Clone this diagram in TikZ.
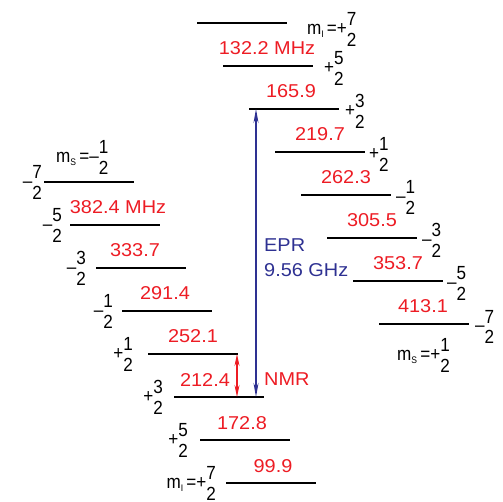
\documentclass[tikz,border=0pt]{standalone}
\usepackage{fontspec}
\setmainfont{Liberation Sans}
\newfontfamily\numfont[FakeStretch=1.07]{Liberation Sans}
\newfontfamily\labfont[FakeStretch=0.9]{Liberation Sans}
\usetikzlibrary{arrows.meta}
\definecolor{nred}{RGB}{237,28,36}
\definecolor{nblue}{RGB}{46,49,146}
\newcommand{\fr}[2]{\raisebox{-11.6pt}{\vbox{\offinterlineskip\halign{\hfil##\hfil\cr\rule{0pt}{13.6pt}#1\cr\noalign{\kern7pt}\rule{0pt}{13.6pt}#2\cr}}}}
\newcommand{\msub}[1]{m\raisebox{-2.5pt}{\fontsize{9.5}{9.5}\selectfont #1}\,}
\tikzset{
  level/.style={line width=1.3pt, black},
  num/.style={text=nred, font=\numfont\fontsize{18.6}{20}\selectfont, inner sep=0pt, anchor=base},
  lab/.style={text=black, font=\labfont\fontsize{19}{21}\selectfont, inner sep=0pt},
  epr/.style={nblue, line width=1.2pt, {Stealth[length=14pt,width=5pt]}-{Stealth[length=14pt,width=5pt]}},
  nmr/.style={nred, line width=1.2pt, {Stealth[length=12pt,width=5pt]}-{Stealth[length=12pt,width=5pt]}},
  eprtext/.style={text=nblue, font=\numfont\fontsize{18.6}{20}\selectfont, inner sep=0pt, anchor=base west},
}
\begin{document}
\begin{tikzpicture}[x=1pt,y=-1pt]
\useasboundingbox (0,0) rectangle (503,502);
% ---- upper manifold (m_S = +1/2)
\coordinate (uL0) at (197,23);
\coordinate (uR0) at (287,23);
\draw[level] (uL0) -- (uR0);
\node[lab, anchor=base west] (ul0) at (307,35) {\msub{I}=+\fr{7}{2}};
\foreach \i/\y/\x/\rx/\rv/\lx/\lab in {
  1/66/223/267/{132.2 MHz}/324/{+\fr{5}{2}},
  2/109/249/291/{165.9}/345/{+\fr{3}{2}},
  3/152/275/320/{219.7}/369/{+\fr{1}{2}},
  4/195/301/346/{262.3}/396/{–\fr{1}{2}},
  5/238/327/372/{305.5}/422/{–\fr{3}{2}},
  6/281/353/398/{353.7}/447/{–\fr{5}{2}},
  7/324/379/423/{413.1}/475/{–\fr{7}{2}}}{
  \coordinate (uL\i) at (\x,\y);
  \coordinate (uR\i) at (\x+90,\y);
  \draw[level] (uL\i) -- (uR\i);
  \node[num] (ur\i) at (\rx,\y-11) {\rv};
  \node[lab, anchor=base west] (ul\i) at (\lx,\y+8) {\lab};
}
\node[lab, anchor=base west] (msp) at (397,360.5) {\msub{S}=+\fr{1}{2}};
% ---- lower manifold (m_S = -1/2)
\node[lab, anchor=base west] (msm) at (56,163) {\msub{S}=–\fr{1}{2}};
\coordinate (lL0) at (44,182);
\coordinate (lR0) at (134,182);
\draw[level] (lL0) -- (lR0);
\node[lab, anchor=base east] (ll0) at (42,187.5) {–\fr{7}{2}};
\foreach \i/\y/\x/\rx/\rv/\lx/\lab in {
  1/225/70/118/{382.4 MHz}/62/{–\fr{5}{2}},
  2/268/96/135/{333.7}/86/{–\fr{3}{2}},
  3/311/122/165/{291.4}/113/{–\fr{1}{2}},
  4/354/148/193/{252.1}/133/{+\fr{1}{2}},
  5/397/174/205/{212.4}/163/{+\fr{3}{2}},
  6/440/200/242/{172.8}/188/{+\fr{5}{2}},
  7/483/226/273/{99.9}/216/{\msub{I}=+\fr{7}{2}}}{
  \coordinate (lL\i) at (\x,\y);
  \coordinate (lR\i) at (\x+90,\y);
  \draw[level] (lL\i) -- (lR\i);
  \node[num] (lr\i) at (\rx,\y-11) {\rv};
  \node[lab, anchor=base east] (ll\i) at (\lx,\y+5.5) {\lab};
}
% ---- transitions
\coordinate (eprB) at (256,397);
\coordinate (eprT) at (256,109);
\draw[epr] (eprB) -- (eprT);
\node[eprtext] (eprl1) at (264,252) {EPR};
\node[eprtext] (eprl2) at (264,277) {9.56 GHz};
\coordinate (nmrT) at (237,354);
\coordinate (nmrB) at (237,397);
\draw[nmr] (nmrT) -- (nmrB);
\node[num, anchor=base west] (nmrl) at (264,385) {NMR};
\end{tikzpicture}
\end{document}
